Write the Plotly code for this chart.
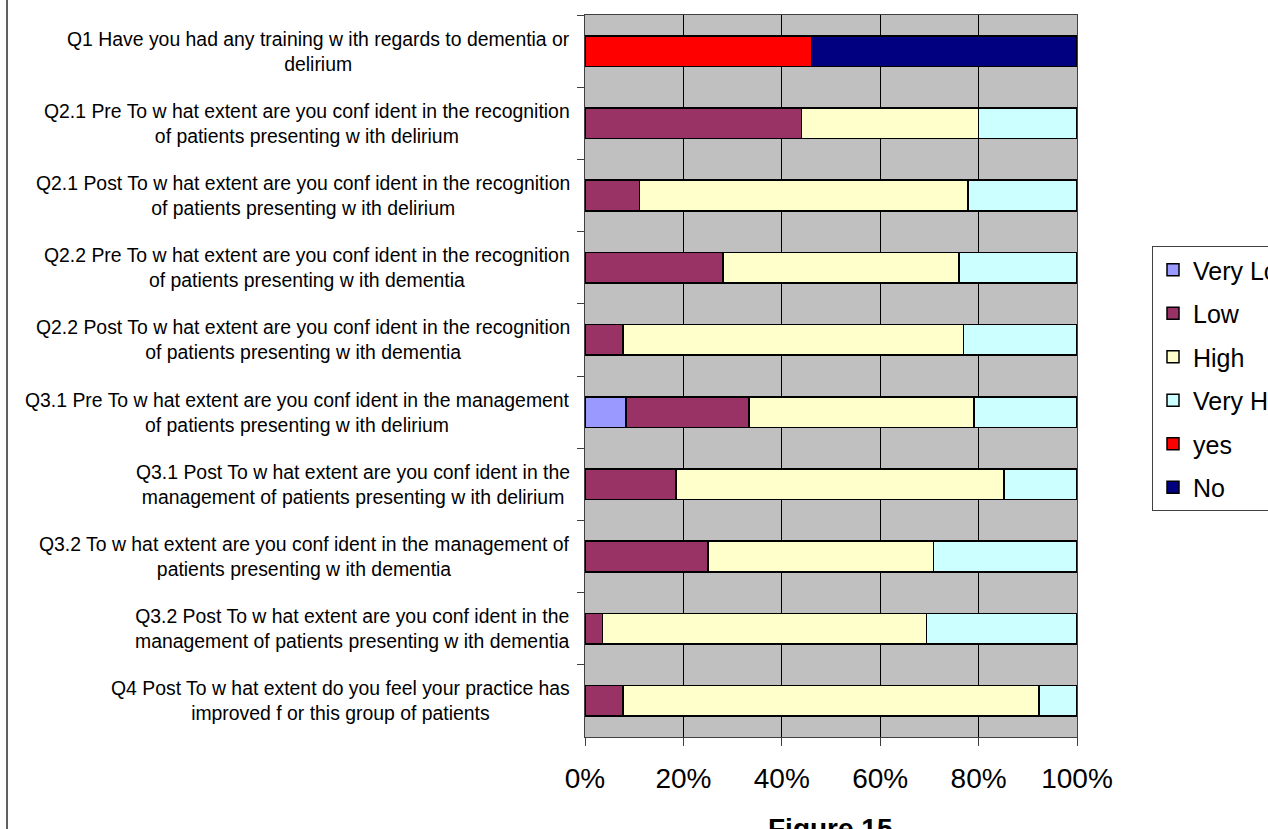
import plotly.graph_objects as go

# Survey questions (top to bottom)
questions = [
    "Q1 Have you had any training w ith regards to dementia or<br>delirium",
    "Q2.1 Pre To w hat extent are you conf ident in the recognition<br>of patients presenting w ith delirium",
    "Q2.1 Post To w hat extent are you conf ident in the recognition<br>of patients presenting w ith delirium",
    "Q2.2 Pre To w hat extent are you conf ident in the recognition<br>of patients presenting w ith dementia",
    "Q2.2 Post To w hat extent are you conf ident in the recognition<br>of patients presenting w ith dementia",
    "Q3.1 Pre To w hat extent are you conf ident in the management<br>of patients presenting w ith delirium",
    "Q3.1 Post To w hat extent are you conf ident in the<br>management of patients presenting w ith delirium",
    "Q3.2 To w hat extent are you conf ident in the management of<br>patients presenting w ith dementia",
    "Q3.2 Post To w hat extent are you conf ident in the<br>management of patients presenting w ith dementia",
    "Q4 Post To w hat extent do you feel your practice has<br>improved f or this group of patients",
]

# Response shares (% of respondents)
very_low = [None, None, None, None, None, 8.3, None, None, None, None]
low = [None, 44.0, 11.1, 28.0, 7.7, 25.0, 18.5, 25.0, 3.6, 7.7]
high = [None, 36.0, 66.7, 48.0, 69.2, 45.8, 66.7, 45.8, 65.8, 84.6]
very_high = [None, 20.0, 22.2, 24.0, 23.1, 20.8, 14.8, 29.2, 30.6, 7.7]
yes = [46.0, None, None, None, None, None, None, None, None, None]
no = [54.0, None, None, None, None, None, None, None, None, None]

x_ticks = [0, 20, 40, 60, 80, 100]
x_tick_labels = ["0%", "20%", "40%", "60%", "80%", "100%"]

series = [
    ("Very Low", very_low, "#9999FF"),
    ("Low", low, "#993366"),
    ("High", high, "#FFFFCC"),
    ("Very High", very_high, "#CCFFFF"),
    ("yes", yes, "#FF0000"),
    ("No", no, "#000080"),
]

W, H = 1360, 860
PL, PR, PT, PB = 585, 1077, 15, 737  # plot area in pixels
pw, ph = PR - PL, PB - PT

def px_x(p):
    return (p - PL) / pw

def px_y(p):
    return (PB - p) / ph

FONT = "Liberation Sans, Arial, sans-serif"

fig = go.Figure()
for name, vals, color in series:
    fig.add_trace(go.Bar(
        y=questions, x=vals, name=name, orientation="h",
        marker=dict(color=color, line=dict(color="black", width=1.5)),
        legendgroup=name, hoverinfo="x+name",
    ))

# Category labels, centred line by line and right-aligned to the axis
annotations = []
for q in questions:
    annotations.append(dict(
        x=0, xref="paper", y=q, yref="y", text=q, showarrow=False,
        xanchor="right", yanchor="middle", align="center", xshift=-13,
        font=dict(family=FONT, size=19.4, color="black"),
    ))
annotations.append(dict(
    x=px_x(830), xref="paper", y=px_y(828), yref="paper", text="<b>Figure 15</b>",
    showarrow=False, xanchor="center", yanchor="middle",
    font=dict(family=FONT, size=28, color="black"),
))

fig.update_layout(
    width=W, height=H,
    barmode="stack", bargap=0.576,
    plot_bgcolor="#C0C0C0", paper_bgcolor="white",
    margin=dict(l=PL, r=W - PR, t=PT, b=H - PB, autoexpand=False, pad=0),
    font=dict(family=FONT, color="black"),
    showlegend=True,
    legend=dict(
        x=px_x(1152), xanchor="left", y=px_y(378.5), yanchor="middle",
        traceorder="grouped", tracegroupgap=8,
        bgcolor="white", bordercolor="#404040", borderwidth=1,
        font=dict(family=FONT, size=25, color="black"),
    ),
    annotations=annotations,
    shapes=[dict(
        type="line", xref="paper", yref="paper",
        x0=px_x(7), x1=px_x(7), y0=px_y(-5), y1=px_y(H + 5),
        line=dict(color="#606060", width=2),
    )],
)

fig.update_xaxes(
    range=[0, 100], tickmode="array", tickvals=x_ticks, ticktext=x_tick_labels,
    showgrid=True, gridcolor="black", gridwidth=1,
    ticks="outside", ticklen=8, tickcolor="#404040",
    showline=True, linecolor="#404040", linewidth=1, mirror=True,
    tickfont=dict(family=FONT, size=28, color="black"),
    ticklabelstandoff=8, zeroline=False, fixedrange=True,
)
fig.update_yaxes(
    categoryorder="array", categoryarray=questions, autorange="reversed",
    showticklabels=False, showgrid=False,
    ticks="outside", ticklen=7, tickcolor="#404040", tickson="boundaries",
    showline=True, linecolor="#404040", linewidth=1, mirror=True,
    fixedrange=True,
)

fig.write_html(
    "out.html",
    post_script="document.documentElement.style.overflow='hidden';document.body.style.overflow='hidden';",
)
